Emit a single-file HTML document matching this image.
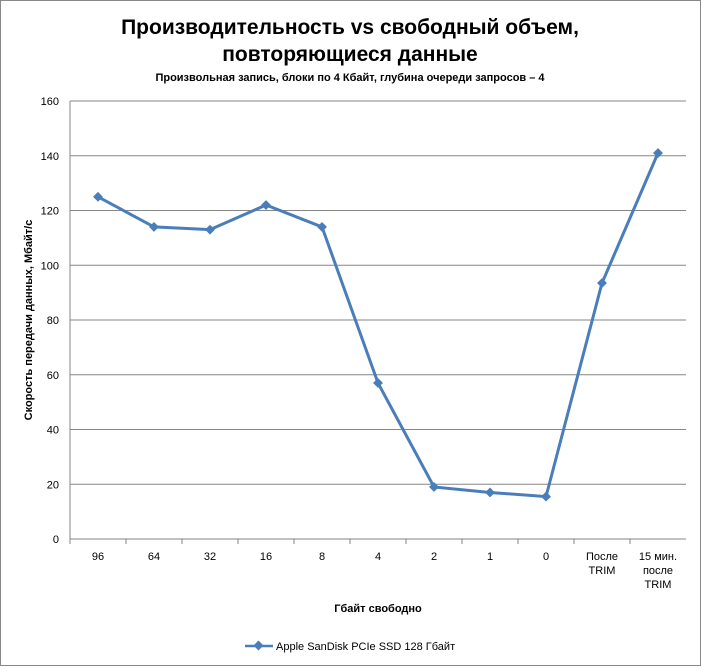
<!DOCTYPE html>
<html><head><meta charset="utf-8"><style>
body{margin:0;background:#fff;font-family:"Liberation Sans",sans-serif}
svg text{font-family:"Liberation Sans","DejaVu Sans",sans-serif}
</style></head><body>
<svg id="c" width="701" height="666" xmlns="http://www.w3.org/2000/svg">
<rect x="0.5" y="0.5" width="700" height="665" fill="#fff" stroke="#888"/>
<text x="350" y="34" text-anchor="middle" font-size="21" font-weight="bold">Производительность vs свободный объем,</text>
<text x="350" y="61" text-anchor="middle" font-size="21" font-weight="bold">повторяющиеся данные</text>
<text x="350" y="81" text-anchor="middle" font-size="11" font-weight="bold">Произвольная  запись, блоки по 4 Кбайт, глубина очереди запросов – 4</text>
<text transform="translate(32,320) rotate(-90)" text-anchor="middle" font-size="11" font-weight="bold">Скорость  передачи данных, Мбайт/с</text>
<text x="378" y="612" text-anchor="middle" font-size="11" font-weight="bold">Гбайт свободно</text>
<g id="grid"></g><g id="series"></g>
<g>
<line x1="245" y1="646" x2="273" y2="646" stroke="#4a7ebb" stroke-width="2.5"/>
<rect x="255" y="642" width="7" height="7" fill="#4a7ebb" transform="rotate(45 258.5 645.5)"/>
<text x="276" y="650" font-size="11">Apple SanDisk PCIe SSD 128 Гбайт</text>
</g>
</svg>
<script>
const categories=[["96"],["64"],["32"],["16"],["8"],["4"],["2"],["1"],["0"],["После","TRIM"],["15 мин.","после","TRIM"]];
const values=[125,114,113,122,114,57,19,17,15.5,93.5,141];
const yTicks=[0,20,40,60,80,100,120,140,160];
const L=70,R=686,T=101,B=539,NS="http://www.w3.org/2000/svg";
const y=v=>B-(v/160)*(B-T);
const x=i=>L+(i+0.5)*(R-L)/categories.length;
const g=document.getElementById('grid'),s=document.getElementById('series');
function mk(tag,a,p){const e=document.createElementNS(NS,tag);for(const k in a)e.setAttribute(k,a[k]);p.appendChild(e);return e;}
yTicks.forEach(t=>{
 const l=mk('line',{x1:L,x2:R,y1:y(t),y2:y(t),stroke:'#868686'},g);
 
 
 const tx=mk('text',{x:L-11,y:y(t)+4,'text-anchor':'end','font-size':'11'},g);tx.textContent=t;
 
 
});
const ax=mk('line',{x1:L,x2:L,y1:T,y2:B,stroke:'#868686'},g);


categories.forEach((c,i)=>{
 const tk=mk('line',{x1:L+i*(R-L)/categories.length,x2:L+i*(R-L)/categories.length,y1:B,y2:B+5,stroke:'#868686'},g);
 
 
 c.forEach((ln,j)=>{const tx=mk('text',{x:x(i),y:560+j*14,'text-anchor':'middle','font-size':'11'},g);tx.textContent=ln;
 
 });
});
const p=mk('polyline',{points:values.map((v,i)=>x(i)+','+y(v)).join(' '),fill:'none',stroke:'#4a7ebb','stroke-width':3},s);


values.forEach((v,i)=>{const m=mk('rect',{x:x(i)-3.5,y:y(v)-3.5,width:7,height:7,fill:'#4a7ebb',transform:`rotate(45 ${x(i)} ${y(v)})`},s);

});
</script>
</body></html>
